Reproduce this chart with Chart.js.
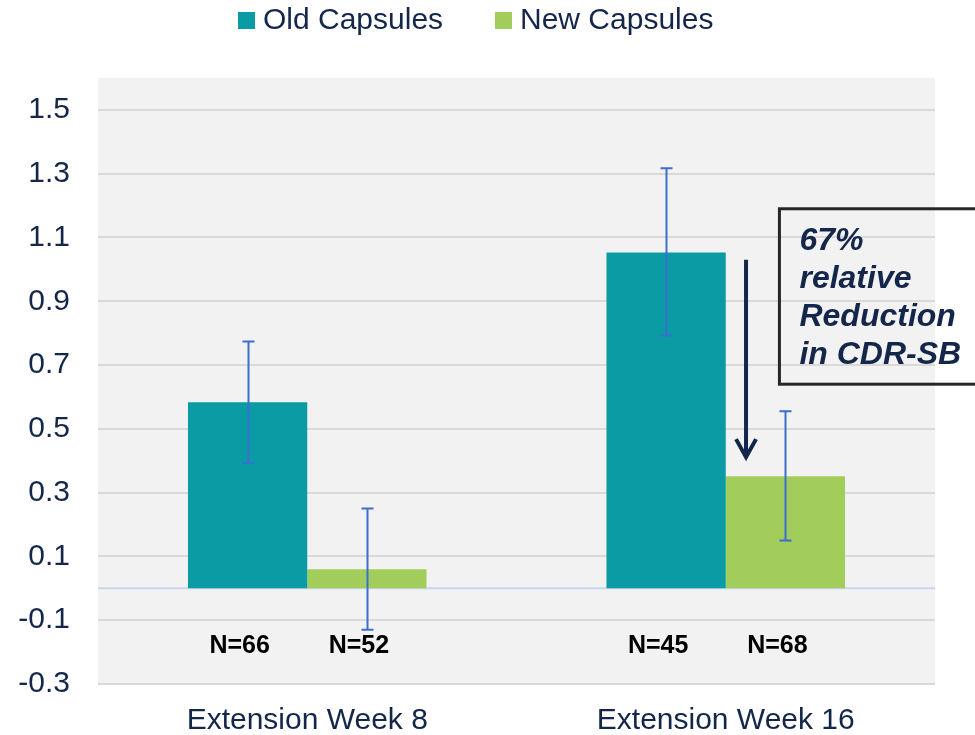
<!DOCTYPE html>
<html>
<head>
<meta charset="utf-8">
<script src="https://cdn.jsdelivr.net/npm/chart.js@4.4.1/dist/chart.umd.min.js"></script>
<style>
body{margin:0;background:#fff;}
#wrap{width:975px;height:735px;position:relative;}
</style>
</head>
<body>
<div id="wrap"><canvas id="capsChart"></canvas></div>
<script>
// data
const categories = ["Extension Week 8", "Extension Week 16"];
const seriesNames = ["Old Capsules", "New Capsules"];
const oldValues = [0.583, 1.053];
const newValues = [0.06, 0.351];
const oldErrLow = [0.392, 0.793];
const oldErrHigh = [0.774, 1.317];
const newErrLow = [-0.13, 0.15];
const newErrHigh = [0.25, 0.555];
const oldN = ["N=66", "N=45"];
const newN = ["N=52", "N=68"];
const yTicks = [-0.3, -0.1, 0.1, 0.3, 0.5, 0.7, 0.9, 1.1, 1.3, 1.5];
const noteLines = ["67%", "relative", "Reduction", "in CDR-SB"];

const navy = "#14264a";
const teal = "#0a9ba5";
const green = "#a2cd5a";
const errColor = "#3a6fcf";
const fontFam = "'Liberation Sans', Arial, sans-serif";

const errLow = [oldErrLow, newErrLow];
const errHigh = [oldErrHigh, newErrHigh];
const nLabels = [oldN, newN];

const extras = {
  id: "extras",
  beforeDraw(chart) {
    const c = chart.ctx, a = chart.chartArea;
    c.save();
    c.fillStyle = "#f2f2f2";
    c.fillRect(a.left, a.top, a.right - a.left, a.bottom - a.top);
    c.restore();
  },
  beforeDatasetsDraw(chart) {
    // zero line
    const c = chart.ctx, a = chart.chartArea, y = chart.scales.y.getPixelForValue(0);
    c.save();
    c.strokeStyle = "#c9d6ef";
    c.lineWidth = 2;
    c.beginPath();
    c.moveTo(a.left, y);
    c.lineTo(a.right, y);
    c.stroke();
    c.restore();
  },
  afterDatasetsDraw(chart) {
    const c = chart.ctx, ys = chart.scales.y, xs = chart.scales.x;
    c.save();
    // error bars + N labels
    chart.data.datasets.forEach((ds, di) => {
      const meta = chart.getDatasetMeta(di);
      meta.data.forEach((bar, i) => {
        const x = Math.round(bar.x) + 0.5;
        const y1 = ys.getPixelForValue(errHigh[di][i]);
        const y2 = ys.getPixelForValue(errLow[di][i]);
        c.strokeStyle = errColor;
        c.lineWidth = 2;
        c.beginPath();
        c.moveTo(x, y1); c.lineTo(x, y2);
        c.moveTo(x - 6, y1); c.lineTo(x + 6, y1);
        c.moveTo(x - 6, y2); c.lineTo(x + 6, y2);
        c.stroke();
        c.fillStyle = "#000";
        c.font = "bold 25px " + fontFam;
        c.textAlign = "center";
        c.textBaseline = "middle";
        c.fillText(nLabels[di][i], bar.x - 8, ys.getPixelForValue(-0.18));
      });
    });
    // arrow between week 16 bars
    const mid = xs.getPixelForValue(1);
    const bw = chart.getDatasetMeta(0).data[1].width;
    const ax = mid + bw * 0.17;
    const top = ys.getPixelForValue(1.03);
    const tip = ys.getPixelForValue(0.405);
    c.strokeStyle = navy;
    c.lineWidth = 4;
    c.beginPath();
    c.moveTo(ax, top);
    c.lineTo(ax, tip - 4);
    c.stroke();
    c.lineJoin = "miter";
    c.beginPath();
    c.moveTo(ax - 10, tip - 20);
    c.lineTo(ax, tip - 2);
    c.lineTo(ax + 10, tip - 20);
    c.stroke();
    // annotation box
    const bx = mid + bw * 0.45;
    const by1 = ys.getPixelForValue(1.19);
    const by2 = ys.getPixelForValue(0.64);
    c.strokeStyle = "#262626";
    c.lineWidth = 3;
    c.strokeRect(bx, by1, chart.width + 20 - bx, by2 - by1);
    c.fillStyle = navy;
    c.font = "italic bold 32px " + fontFam;
    c.textAlign = "left";
    c.textBaseline = "alphabetic";
    noteLines.forEach((t, i) => c.fillText(t, bx + 20, by1 + 41 + i * 38));
    c.restore();
  },
  afterDraw(chart) {
    // legend
    const c = chart.ctx;
    c.save();
    c.font = "30px " + fontFam;
    c.textBaseline = "middle";
    const cols = [teal, green];
    const xs0 = [238, 495];
    seriesNames.forEach((n, i) => {
      c.fillStyle = cols[i];
      c.fillRect(xs0[i], 12, 17, 17);
      c.fillStyle = navy;
      c.fillText(n, xs0[i] + 25, 21);
    });
    c.restore();
  }
};

new Chart(document.getElementById("capsChart"), {
  type: "bar",
  data: {
    labels: categories,
    datasets: [
      {label: seriesNames[0], data: oldValues, backgroundColor: teal},
      {label: seriesNames[1], data: newValues, backgroundColor: green}
    ]
  },
  options: {
    responsive: true,
    maintainAspectRatio: false,
    animation: false,
    categoryPercentage: 0.57,
    barPercentage: 1.0,
    layout: {padding: {top: 78, right: 40, left: 0, bottom: 0}},
    plugins: {legend: {display: false}, tooltip: {enabled: false}},
    scales: {
      x: {
        grid: {display: false},
        border: {display: false},
        ticks: {color: navy, padding: 11, font: {size: 30, family: fontFam}},
        afterFit(s) { s.height = 51; }
      },
      y: {
        min: -0.3,
        max: 1.6,
        afterBuildTicks(s) { s.ticks = yTicks.map(v => ({value: v})); },
        grid: {color: "#d9d9d9", lineWidth: 2, drawTicks: false},
        border: {display: false},
        ticks: {
          color: navy,
          padding: 28,
          font: {size: 30, family: fontFam},
          callback: v => v.toFixed(1)
        },
        afterFit(s) { s.width = 98; }
      }
    }
  },
  plugins: [extras]
});
</script>
</body>
</html>
